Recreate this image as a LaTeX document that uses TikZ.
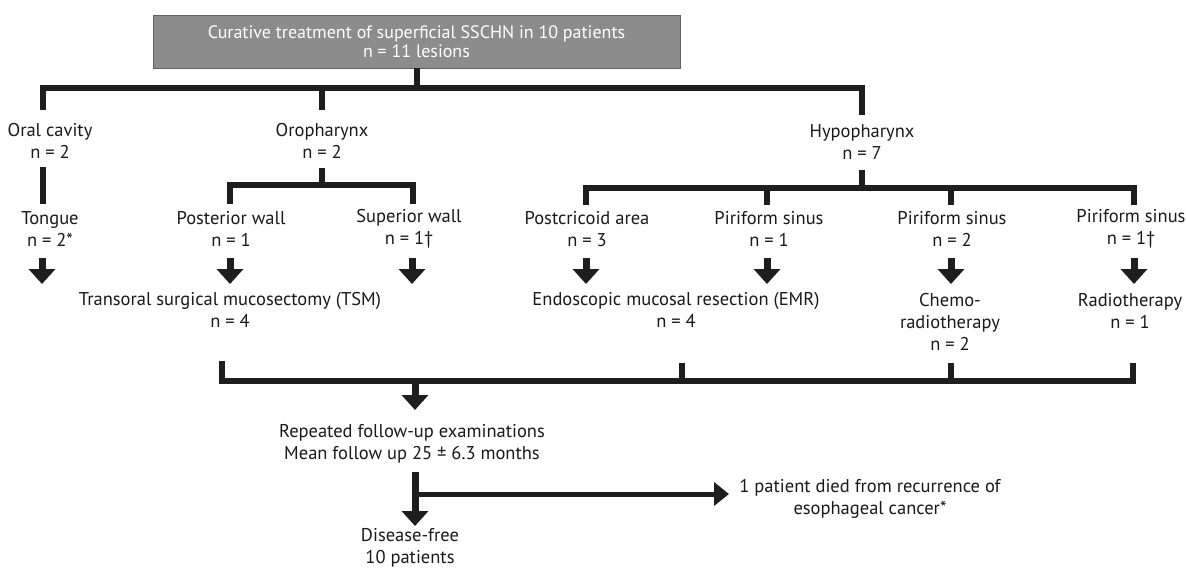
\documentclass[tikz,border=0pt]{standalone}
\usepackage{fontspec}
\setmainfont{PT Sans}
\usetikzlibrary{arrows.meta}
\definecolor{barcol}{HTML}{1E1E1E}
\definecolor{boxgray}{HTML}{8C8C8C}
\tikzset{
  lbl/.style={align=center, inner sep=0pt, text=black!90, font=\fontsize{18.5}{22}\selectfont},
  bar/.style={draw=barcol, line width=6pt, line join=miter, line cap=butt},
  blk/.style={draw=barcol, line width=7pt, -{Triangle[width=26pt,length=15pt]}},
  sideblk/.style={draw=barcol, line width=5pt, -{Triangle[width=23pt,length=15pt]}},
  topbox/.style={fill=boxgray, draw=barcol!70, line width=0.6pt, minimum width=527pt, minimum height=53pt,
    align=center, inner sep=0pt, text=white, font=\fontsize{18}{19}\selectfont},
}
\begin{document}
\begin{tikzpicture}[x=1pt,y=-1pt]
\useasboundingbox (0,0) rectangle (1186,572);
% top box
\node[topbox] (top) at (416.5,41.5) {Curative treatment of superficial SSCHN in 10 patients\\n = 11 lesions};
% level 1 labels
\node[lbl] (oral) at (50,141) {Oral cavity\\n = 2};
\node[lbl] (oro) at (322,141) {Oropharynx\\n = 2};
\node[lbl] (hypo) at (862,142) {Hypopharynx\\n = 7};
% level 2 labels
\node[lbl] (tongue) at (50,229) {Tongue\\n = 2*};
\node[lbl] (post) at (231,229) {Posterior wall\\n = 1};
\node[lbl] (sup) at (409,229) {Superior wall\\n = 1†};
\node[lbl] (pcr) at (587,229) {Postcricoid area\\n = 3};
\node[lbl] (pir1) at (769,229) {Piriform sinus\\n = 1};
\node[lbl] (pir2) at (952,229) {Piriform sinus\\n = 2};
\node[lbl] (pir3) at (1131,229) {Piriform sinus\\n = 1†};
% treatments
\node[lbl] (tsm) at (230,310) {Transoral surgical mucosectomy (TSM)\\n = 4};
\node[lbl] (emr) at (676,310) {Endoscopic mucosal resection (EMR)\\n = 4};
\node[lbl] (crt) at (950,322) {Chemo-\\radiotherapy\\n = 2};
\node[lbl] (rt) at (1130,311) {Radiotherapy\\n = 1};
% follow-up
\node[lbl] (fu) at (412,444) {Repeated follow-up examinations\\Mean follow up 25 ± 6.3 months};
\node[lbl] (died) at (870,499) {1 patient died from recurrence of\\esophageal cancer*};
\node[lbl] (free) at (410,548) {Disease-free\\10 patients};

% coordinates
\coordinate (topS) at (417,68);
\coordinate (j0) at (417,88);
\coordinate (oralT) at (43,110);
\coordinate (oroT) at (322,110);
\coordinate (hypoT) at (862,115);
% main bar
\draw[bar] (oralT) |- (j0) -| (hypoT);
\draw[bar] (topS) -- (j0);
\draw[bar] (oroT) -- (oroT |- j0);

% oral cavity -> tongue
\coordinate (oralA) at (43,167);
\coordinate (oralB) at (43,204);
\draw[bar] (oralA) -- (oralB);

% oropharynx split
\coordinate (oroS) at (322,168);
\coordinate (oroJ) at (322,185);
\coordinate (postT) at (230,204);
\coordinate (supT) at (413,204);
\draw[bar] (oroS) -- (oroJ);
\draw[bar] (postT) |- (oroJ) -| (supT);

% hypopharynx split
\coordinate (hypoS) at (862,170);
\coordinate (hypoJ) at (862,188);
\coordinate (pcrT) at (586,205);
\coordinate (pir1T) at (767,205);
\coordinate (pir2T) at (951,205);
\coordinate (pir3T) at (1134,205);
\draw[bar] (hypoS) -- (hypoJ);
\draw[bar] (pcrT) |- (hypoJ) -| (pir3T);
\draw[bar] (pir1T) -- (pir1T |- hypoJ);
\draw[bar] (pir2T) -- (pir2T |- hypoJ);

% block arrows to treatments
\foreach \x/\n in {42/a1,230/a2,412/a3,586/a4,767/a5,951/a6,1134/a7}{
  \coordinate (\n s) at (\x,258);
  \coordinate (\n e) at (\x,284);
  \draw[blk] (\n s) -- (\n e);
}

% bottom collecting bar
\coordinate (bL) at (222,361);
\coordinate (bR) at (1133,363);
\coordinate (bJ) at (415,381);
\coordinate (bM1) at (682,363);
\coordinate (bM2) at (951,363);
\draw[bar] (bL) |- (bJ) -| (bR);
\draw[bar] (bM1) -- (bM1 |- bJ);
\draw[bar] (bM2) -- (bM2 |- bJ);
\coordinate (fuT) at (415,410);
\draw[blk] (bJ) -- (fuT);

% follow-up outcomes
\coordinate (fuS) at (415,472);
\coordinate (freeT) at (415,526);
\coordinate (sideS) at (415,494);
\coordinate (diedW) at (729,494);
\draw[blk] (fuS) -- (freeT);
\draw[sideblk] (sideS) -- (diedW);
\end{tikzpicture}
\end{document}
